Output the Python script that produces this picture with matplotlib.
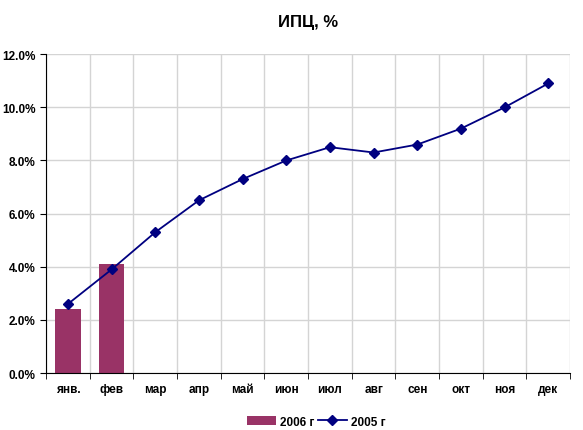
import matplotlib
matplotlib.use("Agg")
import matplotlib.pyplot as plt
from matplotlib.ticker import FuncFormatter, MultipleLocator
import numpy as np

plt.rcParams['font.family'] = ['Liberation Sans', 'DejaVu Sans']
plt.rcParams['font.weight'] = 'bold'

months = ['янв.', 'фев', 'мар', 'апр', 'май', 'июн', 'июл', 'авг', 'сен', 'окт', 'ноя', 'дек']
cpi_2006 = [2.4, 4.1]
cpi_2005 = [2.6, 3.9, 5.3, 6.5, 7.3, 8.0, 8.5, 8.3, 8.6, 9.2, 10.0, 10.9]

fig = plt.figure(figsize=(5.83, 4.31), dpi=100)
ax = fig.add_axes([0.079, 0.132, 0.899, 0.74])

x = np.arange(len(months))
bars = ax.bar(x[:len(cpi_2006)], cpi_2006, width=0.58, color='#993366', label='2006 г', zorder=2)
line, = ax.plot(x, cpi_2005, color='#000080', marker='D', markersize=5, linewidth=1.3, label='2005 г', zorder=3)

ax.set_xlim(-0.5, len(months) - 0.5)
ax.set_ylim(0, 12)
ax.yaxis.set_major_locator(MultipleLocator(2))
ax.yaxis.set_major_formatter(FuncFormatter(lambda v, p: f'{v:.1f}%'))
ax.set_xticks(x)
ax.set_xticklabels(months, fontsize=8.5, fontweight='bold')
ax.set_xticks(np.arange(-0.5, len(months)), minor=True)
ax.tick_params(axis='x', which='major', length=0, pad=7)
ax.tick_params(axis='x', which='minor', length=4, direction='out')
ax.tick_params(axis='y', labelsize=8.5, length=4, direction='out')
for lab in ax.get_yticklabels():
    lab.set_fontweight('bold')

ax.grid(True, axis='y', color='#d4d4d4', linewidth=1, zorder=0)
ax.grid(True, axis='x', which='minor', color='#d4d4d4', linewidth=1, zorder=0)
ax.set_axisbelow(True)
for s in ['top', 'right']:
    ax.spines[s].set_visible(False)

ax.set_title('ИПЦ, %', fontsize=12, fontweight='bold', pad=20)
ax.legend([bars, line], ['2006 г', '2005 г'], loc='upper center', bbox_to_anchor=(0.515, -0.1),
          ncol=2, frameon=False, fontsize=8.5, handlelength=2.5, columnspacing=0.3,
          handletextpad=0.3)

fig.savefig('out.png', dpi=100)
